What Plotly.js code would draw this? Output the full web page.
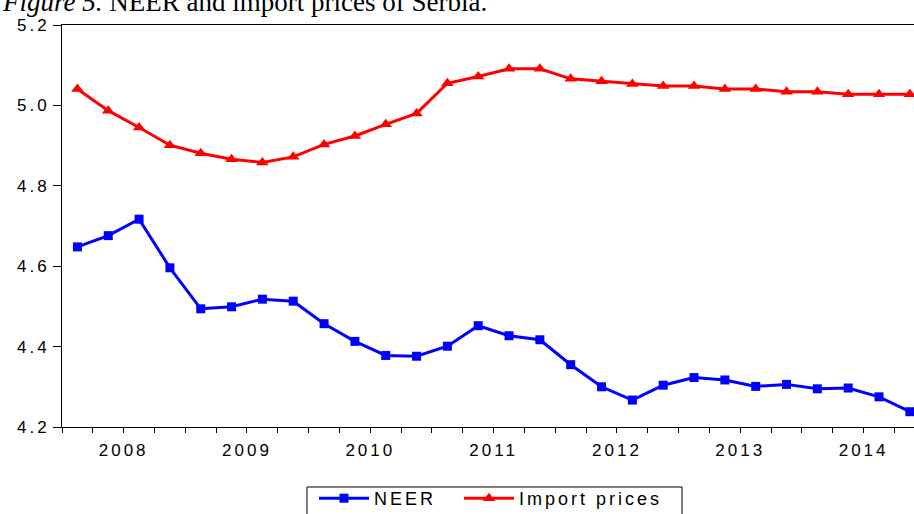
<!DOCTYPE html>
<html>
<head>
<meta charset="utf-8">
<script src="https://cdn.plot.ly/plotly-3.0.1.min.js"></script>
<style>
  html, body { margin: 0; padding: 0; background: #fff; }
  #chart { width: 914px; height: 514px; }
  .xtick text, .ytick text, .x2tick text { letter-spacing: 3px; }
  .legendtext, [class*="legend"] text { letter-spacing: 3px !important; }
</style>
</head>
<body>
<div id="chart"></div>
<script>
// Quarterly observations 2008Q1 .. 2014Q4
const years = ['2008', '2009', '2010', '2011', '2012', '2013', '2014'];
const quarters = [
  '2008Q1','2008Q2','2008Q3','2008Q4','2009Q1','2009Q2','2009Q3','2009Q4',
  '2010Q1','2010Q2','2010Q3','2010Q4','2011Q1','2011Q2','2011Q3','2011Q4',
  '2012Q1','2012Q2','2012Q3','2012Q4','2013Q1','2013Q2','2013Q3','2013Q4',
  '2014Q1','2014Q2','2014Q3','2014Q4'
];
const neer = [
  4.648, 4.676, 4.717, 4.596, 4.494, 4.499, 4.518, 4.513,
  4.457, 4.413, 4.378, 4.376, 4.401, 4.452, 4.427, 4.417,
  4.355, 4.300, 4.267, 4.304, 4.323, 4.317, 4.301, 4.306,
  4.295, 4.297, 4.275, 4.238
];
const importPrices = [
  5.041, 4.987, 4.945, 4.901, 4.881, 4.866, 4.858, 4.872,
  4.903, 4.924, 4.953, 4.980, 5.055, 5.072, 5.091, 5.091,
  5.066, 5.060, 5.053, 5.048, 5.048, 5.041, 5.041, 5.034,
  5.034, 5.028, 5.028, 5.028
];
const yTicks = [4.2, 4.4, 4.6, 4.8, 5.0, 5.2];
const titleText = '<i>Figure 5.</i> NEER and import prices of Serbia.';

// positions derived from the category lists
const xIdx = quarters.map((q, i) => i);
const quarterBounds = quarters.map((q, i) => i - 0.5).concat([quarters.length - 0.5]);
const yearBounds = years.map((y, i) => i * 4 - 0.5).concat([years.length * 4 - 0.5]);
const yearCenters = years.map((y, i) => i * 4 + 1.5);
const xRange = [-0.5, 27.135];

const traces = [
  {
    x: xIdx, y: neer, name: 'NEER', type: 'scatter', mode: 'lines+markers',
    line: { color: '#0000FF', width: 3 },
    marker: { symbol: 'square', size: 9, color: '#0000FF' },
    text: quarters, legend: 'legend'
  },
  {
    x: xIdx, y: importPrices, name: 'Import prices', type: 'scatter', mode: 'lines+markers',
    line: { color: '#FF0000', width: 3 },
    marker: { symbol: 'triangle-up', size: 11, color: '#FF0000' },
    text: quarters, legend: 'legend2'
  },
  // invisible carrier so that the year-label axis is drawn
  {
    x: xIdx, y: neer, xaxis: 'x2', yaxis: 'y', type: 'scatter', mode: 'lines',
    line: { color: 'rgba(0,0,0,0)', width: 0 }, showlegend: false, hoverinfo: 'skip'
  }
];

const tickFont = { family: 'Liberation Sans, Arial, sans-serif', size: 17, color: '#000' };
const legendFont = { family: 'Liberation Sans, Arial, sans-serif', size: 18, color: '#000' };
const legendY = (427 - 480) / 402;

const layout = {
  width: 914, height: 514,
  margin: { l: 62, r: 0, t: 25, b: 87, pad: 0, autoexpand: false },
  paper_bgcolor: '#fff', plot_bgcolor: '#fff',
  showlegend: true,
  xaxis: {
    range: xRange, showgrid: false, zeroline: false,
    showline: true, linecolor: '#000', linewidth: 1, mirror: true,
    tickmode: 'array', tickvals: yearBounds, ticktext: yearBounds.map(() => ''),
    ticks: 'outside', ticklen: 9, tickwidth: 1, tickcolor: '#000',
    minor: { tickmode: 'array', tickvals: quarterBounds, ticks: 'outside', ticklen: 5, tickwidth: 1, tickcolor: '#000', showgrid: false },
    fixedrange: true
  },
  xaxis2: {
    overlaying: 'x', anchor: 'y', side: 'bottom',
    range: xRange, showgrid: false, zeroline: false, showline: false,
    tickmode: 'array', tickvals: yearCenters, ticktext: years,
    ticks: 'outside', ticklen: 8, tickcolor: 'rgba(0,0,0,0)',
    tickfont: tickFont, fixedrange: true
  },
  yaxis: {
    range: [4.2, 5.2], showgrid: false, zeroline: false,
    showline: true, linecolor: '#000', linewidth: 1, mirror: false,
    tickmode: 'array', tickvals: yTicks, ticktext: yTicks.map(v => v.toFixed(1)),
    ticks: 'outside', ticklen: 8, tickwidth: 1, tickcolor: '#000',
    tickfont: tickFont, fixedrange: true
  },
  legend: {
    orientation: 'h', x: (314 - 62) / 852, xanchor: 'left', y: legendY, yanchor: 'top',
    bgcolor: 'rgba(0,0,0,0)', borderwidth: 0, font: legendFont, itemwidth: 50,
    entrywidth: 90, entrywidthmode: 'pixels'
  },
  legend2: {
    orientation: 'h', x: (459 - 62) / 852, xanchor: 'left', y: legendY, yanchor: 'top',
    bgcolor: 'rgba(0,0,0,0)', borderwidth: 0, font: legendFont, itemwidth: 50,
    entrywidth: 170, entrywidthmode: 'pixels'
  },
  shapes: [
    {
      type: 'rect', xref: 'paper', yref: 'paper', layer: 'below',
      x0: (307 - 62) / 852, x1: (682 - 62) / 852,
      y0: (427 - 487) / 402, y1: (427 - 530) / 402,
      line: { color: '#000', width: 1 }, fillcolor: 'rgba(0,0,0,0)'
    }
  ],
  annotations: [
    {
      text: titleText, xref: 'paper', yref: 'paper',
      x: -62 / 852, xanchor: 'left', y: 1.016, yanchor: 'bottom',
      showarrow: false, align: 'left',
      font: { family: 'Liberation Serif, Times New Roman, serif', size: 27, color: '#000' }
    }
  ]
};

Plotly.newPlot('chart', traces, layout, { staticPlot: true, displayModeBar: false });
</script>
</body>
</html>
